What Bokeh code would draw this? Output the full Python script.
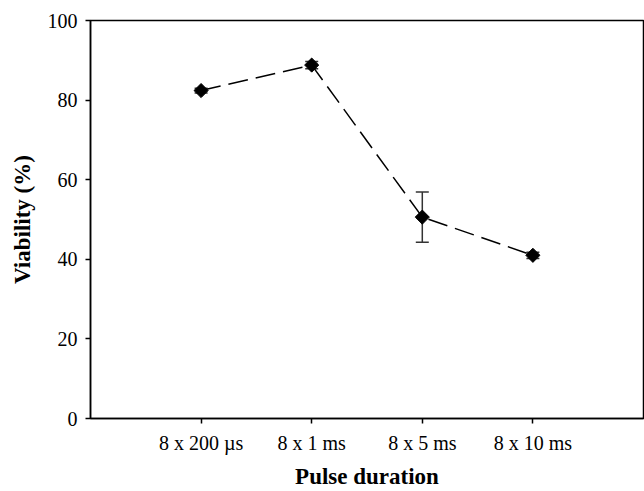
import math
from bokeh.plotting import figure
from bokeh.models import ColumnDataSource, Range1d, FixedTicker, Whisker, TeeHead
from bokeh.embed import file_html
from bokeh.resources import INLINE

categories = ["8 x 200 \u00b5s", "8 x 1 ms", "8 x 5 ms", "8 x 10 ms"]
viability = [82.4, 88.8, 50.6, 41.0]
errors = [0.6, 0.9, 6.3, 0.8]
y_ticks = [0, 20, 40, 60, 80, 100]

xs = [i + 1 for i in range(len(categories))]
src = ColumnDataSource(dict(
    x=xs, y=viability,
    upper=[v + e for v, e in zip(viability, errors)],
    lower=[v - e for v, e in zip(viability, errors)],
))

FONT = "Liberation Serif"

p = figure(width=644, height=491, output_backend="svg", toolbar_location=None,
           x_range=Range1d(0, len(categories) + 1), y_range=Range1d(0, 100),
           min_border_left=90, min_border_right=1, min_border_top=20, min_border_bottom=72)
p.background_fill_color = "white"
p.border_fill_color = "white"
p.grid.visible = False
p.outline_line_color = "black"
p.outline_line_width = 1.5

p.line("x", "y", source=src, line_color="black", line_width=1.5, line_dash="20 8")

whisk = Whisker(base="x", upper="upper", lower="lower", source=src,
                line_color="#333333", line_width=1.5,
                upper_head=TeeHead(size=13, line_color="#333333", line_width=1.5),
                lower_head=TeeHead(size=13, line_color="#333333", line_width=1.5))
p.add_layout(whisk)

p.scatter("x", "y", source=src, marker="square", angle=math.pi / 4, size=10,
          fill_color="black", line_color="black")

p.xaxis.ticker = FixedTicker(ticks=xs)
p.xaxis.major_label_overrides = {x: c for x, c in zip(xs, categories)}
p.yaxis.ticker = FixedTicker(ticks=y_ticks)

for ax in (p.xaxis[0], p.yaxis[0]):
    ax.axis_line_width = 1.5
    ax.axis_line_color = "black"
    ax.major_tick_line_color = "black"
    ax.major_tick_line_width = 1.5
    ax.major_tick_in = 0
    ax.major_tick_out = 5
    ax.minor_tick_line_color = None
    ax.major_label_text_font = FONT
    ax.major_label_text_font_size = "20px"
    ax.major_label_text_color = "black"
    ax.axis_label_text_font = FONT
    ax.axis_label_text_font_size = "23px"
    ax.axis_label_text_font_style = "bold"
    ax.axis_label_text_color = "black"

p.xaxis.axis_label = "Pulse duration"
p.yaxis.axis_label = "Viability (%)"
p.xaxis.major_label_standoff = 8
p.yaxis.major_label_standoff = 8
p.xaxis.axis_label_standoff = 7
p.yaxis.axis_label_standoff = 10

open("out.html", "w").write(file_html(p, INLINE))
